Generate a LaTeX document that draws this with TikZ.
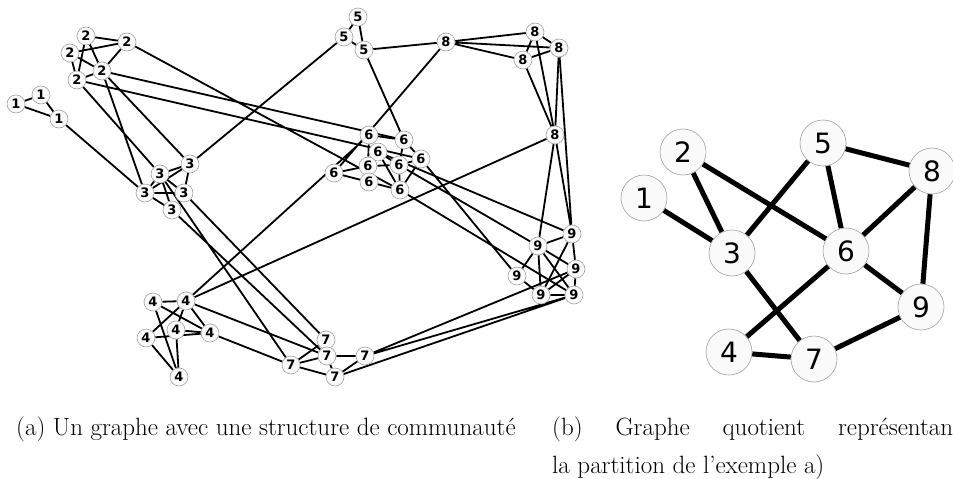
\documentclass[tikz,border=0pt]{standalone}
\usepackage{fontspec}
\newfontfamily\graphfont{DejaVu Sans}
\usetikzlibrary{backgrounds}

\begin{document}
\begin{tikzpicture}[x=1pt,y=-1pt,
  vtx/.style={circle,draw=gray!75,fill=gray!4,line width=0.6pt,inner sep=0pt,
    minimum size=18pt,font=\graphfont\bfseries\fontsize{13}{13}\selectfont},
  qvtx/.style={circle,draw=gray!75,fill=gray!4,line width=0.6pt,inner sep=0pt,
    minimum size=46pt,font=\graphfont\fontsize{28}{28}\selectfont},
  edge/.style={line width=1.8pt},
  qedge/.style={line width=5pt},
  captext/.style={anchor=base west,inner sep=0pt,font=\fontsize{25}{29}\selectfont}
]
  \useasboundingbox (0,0) rectangle (953,479);

  % (a) communities 1 and 2
  \node[vtx] (g1a) at (16,104) {1};
  \node[vtx] (g1b) at (41,95) {1};
  \node[vtx] (g1c) at (59,119) {1};
  \node[vtx] (g2a) at (86,36) {2};
  \node[vtx] (g2b) at (127,42) {2};
  \node[vtx] (g2c) at (70,53) {2};
  \node[vtx] (g2d) at (102,71) {2};
  \node[vtx] (g2e) at (77,80) {2};

  % communities 3 and 4
  \node[vtx] (g3a) at (190,164) {3};
  \node[vtx] (g3b) at (160,174) {3};
  \node[vtx] (g3c) at (145,193) {3};
  \node[vtx] (g3d) at (184,193) {3};
  \node[vtx] (g3e) at (172,210) {3};
  \node[vtx] (g4a) at (153,302) {4};
  \node[vtx] (g4b) at (186,301) {4};
  \node[vtx] (g4c) at (176,330) {4};
  \node[vtx] (g4d) at (146,338) {4};
  \node[vtx] (g4e) at (210,333) {4};
  \node[vtx] (g4f) at (179,377) {4};

  % communities 5 and 6
  \node[vtx] (g5a) at (358,17) {5};
  \node[vtx] (g5b) at (344,37) {5};
  \node[vtx] (g5c) at (364,50) {5};
  \node[vtx] (g6a) at (369,135) {6};
  \node[vtx] (g6b) at (404,140) {6};
  \node[vtx] (g6c) at (378,152) {6};
  \node[vtx] (g6d) at (368,166) {6};
  \node[vtx] (g6e) at (399,165) {6};
  \node[vtx] (g6f) at (421,159) {6};
  \node[vtx] (g6g) at (334,173) {6};
  \node[vtx] (g6h) at (369,182) {6};
  \node[vtx] (g6i) at (400,190) {6};

  % communities 7, 8 and 9
  \node[vtx] (g7a) at (326,340) {7};
  \node[vtx] (g7b) at (327,356) {7};
  \node[vtx] (g7c) at (291,365) {7};
  \node[vtx] (g7d) at (365,356) {7};
  \node[vtx] (g7e) at (335,377) {7};
  \node[vtx] (g8a) at (446,42) {8};
  \node[vtx] (g8b) at (535,32) {8};
  \node[vtx] (g8c) at (559,48) {8};
  \node[vtx] (g8d) at (523,60) {8};
  \node[vtx] (g8e) at (555,135) {8};
  \node[vtx] (g9a) at (572,234) {9};
  \node[vtx] (g9b) at (538,246) {9};
  \node[vtx] (g9c) at (576,269) {9};
  \node[vtx] (g9d) at (517,276) {9};
  \node[vtx] (g9e) at (541,295) {9};
  \node[vtx] (g9f) at (574,295) {9};

  \begin{pgfonlayer}{background}
    % edges inside communities
    \draw[edge] (g1a) -- (g1b) (g1a) -- (g1c) (g1b) -- (g1c);
    \draw[edge] (g2a) -- (g2b) (g2c) -- (g2b) (g2a) -- (g2d) (g2a) -- (g2e)
      (g2c) -- (g2d) (g2c) -- (g2e) (g2b) -- (g2d) (g2e) -- (g2d);
    \draw[edge] (g3b) -- (g3a) (g3c) -- (g3a) (g3a) -- (g3d) (g3b) -- (g3c)
      (g3c) -- (g3d) (g3b) -- (g3d) (g3b) -- (g3e) (g3c) -- (g3e);
    \draw[edge] (g4a) -- (g4b) (g4a) -- (g4e) (g4a) -- (g4f) (g4b) -- (g4d)
      (g4b) -- (g4c) (g4b) -- (g4e) (g4c) -- (g4e) (g4d) -- (g4e)
      (g4d) -- (g4f) (g4c) -- (g4f);
    \draw[edge] (g5a) -- (g5b) (g5a) -- (g5c) (g5b) -- (g5c);
    \draw[edge] (g6a) -- (g6b) (g6a) -- (g6d) (g6b) -- (g6e) (g6b) -- (g6f)
      (g6c) -- (g6e) (g6c) -- (g6i) (g6d) -- (g6e) (g6g) -- (g6d)
      (g6g) -- (g6h) (g6h) -- (g6i) (g6e) -- (g6i) (g6f) -- (g6e)
      (g6f) -- (g6i);
    \draw[edge] (g7a) -- (g7b) (g7c) -- (g7a) (g7c) -- (g7b) (g7b) -- (g7d)
      (g7b) -- (g7e) (g7c) -- (g7e) (g7e) -- (g7d);
    \draw[edge] (g8a) -- (g8b) (g8a) -- (g8c) (g8a) -- (g8d) (g8b) -- (g8c)
      (g8b) -- (g8d) (g8d) -- (g8c) (g8b) -- (g8e) (g8d) -- (g8e)
      (g8c) -- (g8e);
    \draw[edge] (g9b) -- (g9a) (g9a) -- (g9c) (g9a) -- (g9e) (g9b) -- (g9d)
      (g9b) -- (g9e) (g9b) -- (g9c) (g9b) -- (g9f) (g9d) -- (g9e)
      (g9c) -- (g9e) (g9c) -- (g9f) (g9e) -- (g9f);

    % edges between communities
    \draw[edge] (g1c) -- (g3c) (g2d) -- (g3c) (g2d) -- (g3a) (g2e) -- (g3b)
      (g3b) -- (g7c) (g2b) -- (g6i) (g2d) -- (g6b) (g2e) -- (g6f)
      (g3a) -- (g5b) (g3d) -- (g7a) (g3e) -- (g7b);
    \draw[edge] (g4b) -- (g6a) (g4b) -- (g8e) (g4b) -- (g7b) (g4e) -- (g7c)
      (g5c) -- (g8a) (g5c) -- (g6b) (g8a) -- (g6g);
    \draw[edge] (g6c) -- (g9a) (g6e) -- (g9b) (g6f) -- (g9d) (g6i) -- (g9f)
      (g7d) -- (g9c) (g7d) -- (g9f) (g7e) -- (g9f)
      (g8c) -- (g9a) (g8e) -- (g9a) (g8e) -- (g9b);
  \end{pgfonlayer}

  % (b) quotient graph
  \node[qvtx] (q1) at (644,198) {1};
  \node[qvtx] (q2) at (683,152) {2};
  \node[qvtx] (q3) at (732,253) {3};
  \node[qvtx] (q4) at (729,352) {4};
  \node[qvtx] (q5) at (823,143) {5};
  \node[qvtx] (q6) at (846,251) {6};
  \node[qvtx] (q7) at (814,359) {7};
  \node[qvtx] (q8) at (932,171) {8};
  \node[qvtx] (q9) at (921,307) {9};

  \begin{pgfonlayer}{background}
    \draw[qedge] (q1) -- (q3) (q2) -- (q3) (q2) -- (q6) (q3) -- (q5)
      (q3) -- (q7) (q5) -- (q6) (q5) -- (q8) (q6) -- (q8) (q6) -- (q9)
      (q6) -- (q4) (q8) -- (q9) (q9) -- (q7) (q4) -- (q7);
  \end{pgfonlayer}

  % captions
  \node[captext] (capa) at (16,435) {(a) Un graphe avec une structure de communauté};
  \node[captext] (capb) at (552,435) {\makebox[401pt][s]{(b) Graphe quotient représentan}};
  \node[captext] (capc) at (552,473) {la partition de l'exemple a)};
\end{tikzpicture}
\end{document}
